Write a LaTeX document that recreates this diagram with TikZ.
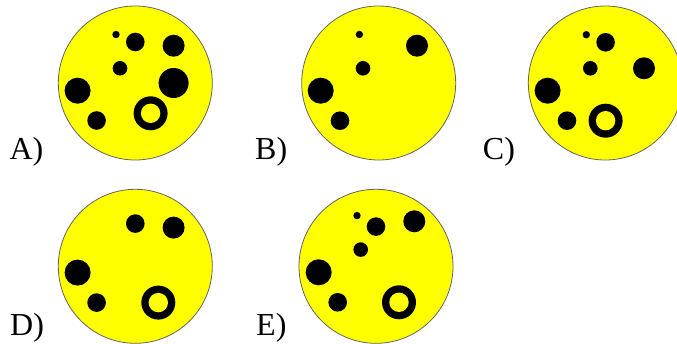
\documentclass[tikz,border=0pt]{standalone}
\usepackage{fontspec}
\setmainfont{Liberation Serif}
\definecolor{diskyellow}{RGB}{255,255,0}
\definecolor{rimgray}{RGB}{100,100,100}
\begin{document}
\begin{tikzpicture}[x=1pt,y=-1pt,
  disk/.style={fill=diskyellow,draw=rimgray,line width=0.8pt},
  hole/.style={fill=black},
  ringin/.style={fill=diskyellow},
  lab/.style={anchor=base west,inner sep=0pt,font=\fontsize{32}{36}\selectfont}]
\useasboundingbox (0,0) rectangle (677,344);
% A
\begin{scope}[shift={(135.3,83)}]
  \draw[disk] (0,0) circle (77);
  \fill[hole] (-19.3,-48.5) circle (3.7);
  \fill[hole] (0,-41) circle (9.3);
  \fill[hole] (38.3,-37.3) circle (11);
  \fill[hole] (-15.3,-14.7) circle (7.3);
  \fill[hole] (38.3,0) circle (15);
  \fill[hole] (-57.7,7.7) circle (13);
  \fill[hole] (-38.7,37.5) circle (9.3);
  \fill[hole] (15.3,30.3) circle (17);
  \fill[ringin] (15.3,30.3) circle (9.7);
\end{scope}
\node[lab] (la) at (9.3,159.3) {A)};
% B
\begin{scope}[shift={(378.7,83)}]
  \draw[disk] (0,0) circle (77);
  \fill[hole] (-19.3,-48.5) circle (3.7);
  \fill[hole] (38.3,-37.3) circle (11);
  \fill[hole] (-15.7,-14.7) circle (7.3);
  \fill[hole] (-58,7.7) circle (13);
  \fill[hole] (-38.7,37.7) circle (9.3);
\end{scope}
\node[lab] (lb) at (255,159.3) {B)};
% C
\begin{scope}[shift={(605.3,83)}]
  \draw[disk] (0,0) circle (77);
  \fill[hole] (-19,-48.3) circle (3.7);
  \fill[hole] (0.3,-40.7) circle (9.3);
  \fill[hole] (-15,-14.7) circle (7.3);
  \fill[hole] (38.7,-14.7) circle (11);
  \fill[hole] (-57.7,7.7) circle (13);
  \fill[hole] (-38.3,37.7) circle (9.3);
  \fill[hole] (0.3,37.7) circle (17);
  \fill[ringin] (0.3,37.7) circle (9.7);
\end{scope}
\node[lab] (lc) at (482.7,159.3) {C)};
% D
\begin{scope}[shift={(135.3,266.3)}]
  \draw[disk] (0,0) circle (77);
  \fill[hole] (0,-42.7) circle (9.3);
  \fill[hole] (38.3,-38.7) circle (11);
  \fill[hole] (-57.7,6.3) circle (13);
  \fill[hole] (-38.7,36.3) circle (9.3);
  \fill[hole] (23,36.3) circle (17);
  \fill[ringin] (23,36.3) circle (9.7);
\end{scope}
\node[lab] (ld) at (10,336) {D)};
% E
\begin{scope}[shift={(376,266.3)}]
  \draw[disk] (0,0) circle (77);
  \fill[hole] (-19,-50.7) circle (3.7);
  \fill[hole] (0,-39.7) circle (9.3);
  \fill[hole] (38.3,-45) circle (11);
  \fill[hole] (-15.3,-16.7) circle (7.3);
  \fill[hole] (-57.3,6) circle (13);
  \fill[hole] (-38.3,36) circle (9.3);
  \fill[hole] (23,36) circle (17);
  \fill[ringin] (23,36) circle (9.7);
\end{scope}
\node[lab] (le) at (256,336) {E)};
\end{tikzpicture}
\end{document}
